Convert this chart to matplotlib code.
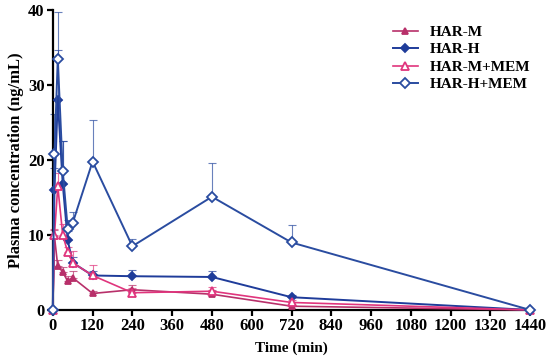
import matplotlib
matplotlib.use('Agg')
import matplotlib.pyplot as plt

# sampling times (min)
t = [0, 5, 15, 30, 45, 60, 120, 240, 480, 720, 1440]

har_m = [0, 9.8, 5.8, 5.1, 3.8, 4.3, 2.2, 2.7, 2.1, 0.5, 0]
har_m_err = [0, 0.8, 0.9, 0.6, 0.7, 0.9, 0.3, 0.6, 0.5, 0.2, 0]
har_h = [0, 16.0, 28.0, 16.8, 9.3, 6.3, 4.6, 4.5, 4.4, 1.7, 0]
har_h_err = [0, 3.0, 6.7, 5.7, 1.2, 0.8, 0.6, 0.8, 0.8, 0.3, 0]
har_mm = [0, 10.0, 16.5, 10.0, 7.7, 6.3, 4.6, 2.3, 2.5, 1.0, 0]
har_mm_err = [0, 0.8, 1.8, 1.5, 0.7, 1.5, 1.4, 0.6, 0.6, 0.3, 0]
har_hm = [0, 20.8, 33.5, 18.5, 10.8, 11.6, 19.8, 8.5, 15.1, 9.0, 0]
har_hm_err = [0, 5.4, 6.2, 4.0, 1.2, 1.5, 5.5, 1.0, 4.5, 2.3, 0]

series = [
    ('HAR-M', har_m, har_m_err, '#b8306a', '^', True),
    ('HAR-H', har_h, har_h_err, '#1f3c9a', 'D', True),
    ('HAR-M+MEM', har_mm, har_mm_err, '#e0357d', '^', False),
    ('HAR-H+MEM', har_hm, har_hm_err, '#2a4ca0', 'D', False),
]

plt.rcParams['font.family'] = ['Liberation Serif', 'DejaVu Serif']
plt.rcParams['font.weight'] = 'bold'

fig = plt.figure(figsize=(5.5, 3.6), dpi=100)
ax = fig.add_axes([0.096, 0.139, 0.868, 0.833])

for name, y, err, col, mk, filled in series:
    lw = 1.4 if 'H' in name.split('-')[1][:1] else 1.2
    ax.errorbar(t, y, yerr=[[0] * len(err), err], fmt='none', ecolor=col,
                elinewidth=0.8, capsize=3, capthick=0.8, alpha=0.7, clip_on=False)
    ms = 4 if filled else 5.5
    ax.plot(t, y, color=col, lw=lw, marker=mk, ms=ms,
            markerfacecolor=col if filled else 'white',
            markeredgecolor=col, markeredgewidth=1.3, label=name, clip_on=False, zorder=3)

ax.set_xlim(0, 1440)
ax.set_ylim(0, 40)
ax.set_xticks(range(0, 1441, 120))
ax.set_yticks([0, 10, 20, 30, 40])
ax.spines['top'].set_visible(False)
ax.spines['right'].set_visible(False)
ax.spines['left'].set_linewidth(1.6)
ax.spines['bottom'].set_linewidth(1.6)
ax.tick_params(width=1.6, length=4, labelsize=12, pad=2)
for lab in ax.get_xticklabels() + ax.get_yticklabels():
    lab.set_fontweight('bold')

ax.set_xlabel('Time (min)', fontsize=11, fontweight='bold', labelpad=5)
ax.set_ylabel('Plasma concentration (ng/mL)', fontsize=12, fontweight='bold', labelpad=3)

leg = ax.legend(loc='upper left', bbox_to_anchor=(0.7, 0.97), frameon=False,
                prop={'weight': 'bold', 'size': 11}, handlelength=1.6,
                labelspacing=0.25, borderaxespad=0)

fig.savefig('out.png', dpi=100)
